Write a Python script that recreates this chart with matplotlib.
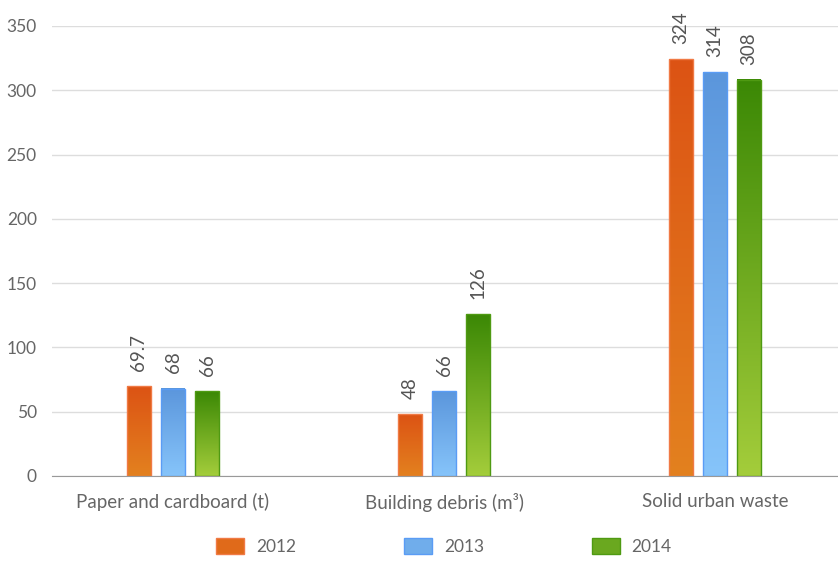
import numpy as np
import matplotlib.pyplot as plt
from matplotlib.colors import LinearSegmentedColormap
from matplotlib.patches import Patch

plt.rcParams['font.family'] = ['Lato', 'DejaVu Sans']

categories = ['Paper and cardboard (t)', 'Building debris (m³)', 'Solid urban waste']
years = ['2012', '2013', '2014']
v2012 = [69.7, 48, 324]
v2013 = [68, 66, 314]
v2014 = [66, 126, 308]
labels2012 = ['69.7', '48', '324']
labels2013 = ['68', '66', '314']
labels2014 = ['66', '126', '308']

# (top colour, bottom colour, edge colour)
styles = [('#dc5314', '#e3811f', '#f07a45'),
          ('#5b96dc', '#86c4fa', '#5a9cf5'),
          ('#3b8805', '#a4cd3b', '#4f9a12')]
legend_cols = ['#e06a1a', '#70adeb', '#6aa81f']

fig = plt.figure(figsize=(8.38, 5.61), dpi=100)
ax = fig.add_axes([52 / 838, 85 / 561, 1 - 52 / 838, 450 / 561])

x = np.arange(len(categories))
w = 0.085
off = 0.1255
series = [(v2012, labels2012), (v2013, labels2013), (v2014, labels2014)]
grad = np.linspace(1, 0, 256).reshape(-1, 1)

for k, (vals, labs) in enumerate(series):
    top, bot, edge = styles[k]
    cmap = LinearSegmentedColormap.from_list('g%d' % k, [bot, top])
    xs = x + (k - 1) * off
    for xi, v, lab in zip(xs, vals, labs):
        ax.imshow(grad, cmap=cmap, vmin=0, vmax=1, aspect='auto',
                  extent=[xi - w / 2, xi + w / 2, 0, v], zorder=3)
        ax.annotate(lab, (xi, v), xytext=(0, 11), textcoords='offset points',
                    rotation=90, ha='center', va='bottom',
                    fontsize=13.5, color='#555555', zorder=4)
    ax.bar(xs, vals, width=w, facecolor='none', edgecolor=edge,
           linewidth=1, zorder=4)

ax.set_xlim(-121 / 271, 665 / 271)
ax.set_ylim(0, 350)
ax.set_yticks(np.arange(0, 351, 50))
ax.set_xticks(x)
ax.set_xticklabels(categories)
ax.grid(axis='y', color='#dddddd', linewidth=1, zorder=0)
ax.set_axisbelow(True)
for s in ['top', 'right', 'left']:
    ax.spines[s].set_visible(False)
ax.spines['bottom'].set_color('#999999')
ax.spines['bottom'].set_zorder(5)
ax.tick_params(axis='y', length=0, pad=11, labelsize=12.5, labelcolor='#666666')
ax.tick_params(axis='x', length=0, pad=12, labelsize=13.5, labelcolor='#666666')

handles = [Patch(facecolor=legend_cols[k], edgecolor=styles[k][2]) for k in range(3)]
fig.legend(handles, years, loc='center', bbox_to_anchor=(0.530, 0.026),
           ncol=3, frameon=False, fontsize=12.5, labelcolor='#666666',
           handlelength=1.6, handleheight=1.0, handletextpad=0.7,
           columnspacing=6.2)

fig.savefig('out.png', dpi=100)
